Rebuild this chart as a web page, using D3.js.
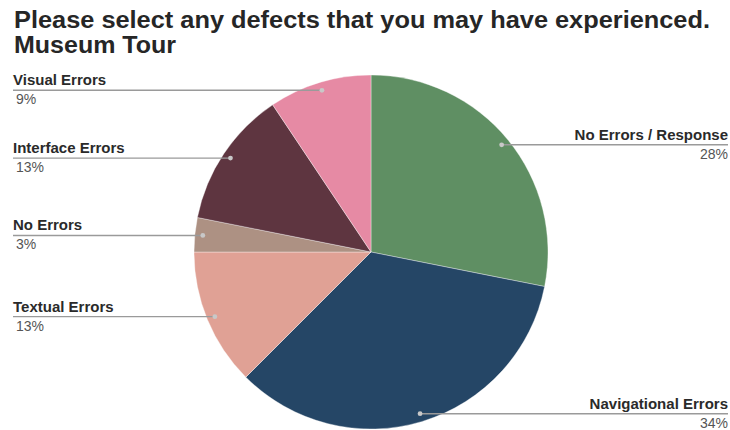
<!DOCTYPE html>
<html>
<head>
<meta charset="utf-8">
<script src="https://cdn.jsdelivr.net/npm/d3@7"></script>
<style>
  html, body { margin: 0; padding: 0; background: #fff; }
  svg { display: block; }
</style>
</head>
<body>
<script>
const categories = ["No Errors / Response", "Navigational Errors", "Textual Errors", "No Errors", "Interface Errors", "Visual Errors"];
const counts = [9, 11, 4, 1, 4, 3];
const colors = ["#5f8f63", "#254666", "#e0a195", "#ad9183", "#5e3540", "#e68aa4"];
const titleLines = ["Please select any defects that you may have experienced.", "Museum Tour"];

const W = 730, H = 430;
const cx = 371, cy = 252, R = 177;

const svg = d3.select("body").append("svg").attr("width", W).attr("height", H);

svg.append("text").attr("x", 14).attr("y", 28)
  .attr("font-family", "Liberation Sans, Arial, sans-serif").attr("font-weight", "bold")
  .attr("font-size", 23.5).attr("fill", "#262626")
  .attr("textLength", 696).attr("lengthAdjust", "spacingAndGlyphs")
  .text(titleLines[0]);
svg.append("text").attr("x", 14).attr("y", 53)
  .attr("font-family", "Liberation Sans, Arial, sans-serif").attr("font-weight", "bold")
  .attr("font-size", 23.5).attr("fill", "#262626")
  .attr("textLength", 162).attr("lengthAdjust", "spacingAndGlyphs")
  .text(titleLines[1]);

const data = categories.map((c, i) => ({ name: c, value: counts[i], color: colors[i] }));
const total = d3.sum(counts);
const pie = d3.pie().value(d => d.value).sort(null);
const arcs = pie(data);
const arc = d3.arc().innerRadius(0).outerRadius(R);
const dotArc = d3.arc().innerRadius(169).outerRadius(169);

const g = svg.append("g").attr("transform", `translate(${cx},${cy})`);
g.selectAll("path").data(arcs).join("path")
  .attr("d", arc).attr("fill", d => d.data.color)
  .attr("stroke", "#ffffff").attr("stroke-width", 0.6).attr("stroke-opacity", 0.6);

const fmt = v => Math.round(v / total * 100) + "%";

arcs.forEach(d => {
  const [dx, dy] = dotArc.centroid(d);
  const px = cx + dx, py = cy + dy;
  const right = dx > 0;
  const endX = right ? 728 : 13;
  svg.append("line").attr("x1", px).attr("y1", py).attr("x2", endX).attr("y2", py)
    .attr("stroke", "#9a9a9a").attr("stroke-width", 1.4);
  svg.append("circle").attr("cx", px).attr("cy", py).attr("r", 2.4)
    .attr("fill", "#c8c8c8");
  svg.append("text").attr("x", endX).attr("y", py - 5)
    .attr("text-anchor", right ? "end" : "start")
    .attr("font-family", "Liberation Sans, Arial, sans-serif").attr("font-weight", "bold")
    .attr("font-size", 15).attr("fill", "#2a2a2a")
    .text(d.data.name);
  svg.append("text").attr("x", right ? endX : 16).attr("y", py + 14)
    .attr("text-anchor", right ? "end" : "start")
    .attr("font-family", "Liberation Sans, Arial, sans-serif")
    .attr("font-size", 14).attr("fill", "#555")
    .text(fmt(d.data.value));
});
</script>
</body>
</html>
